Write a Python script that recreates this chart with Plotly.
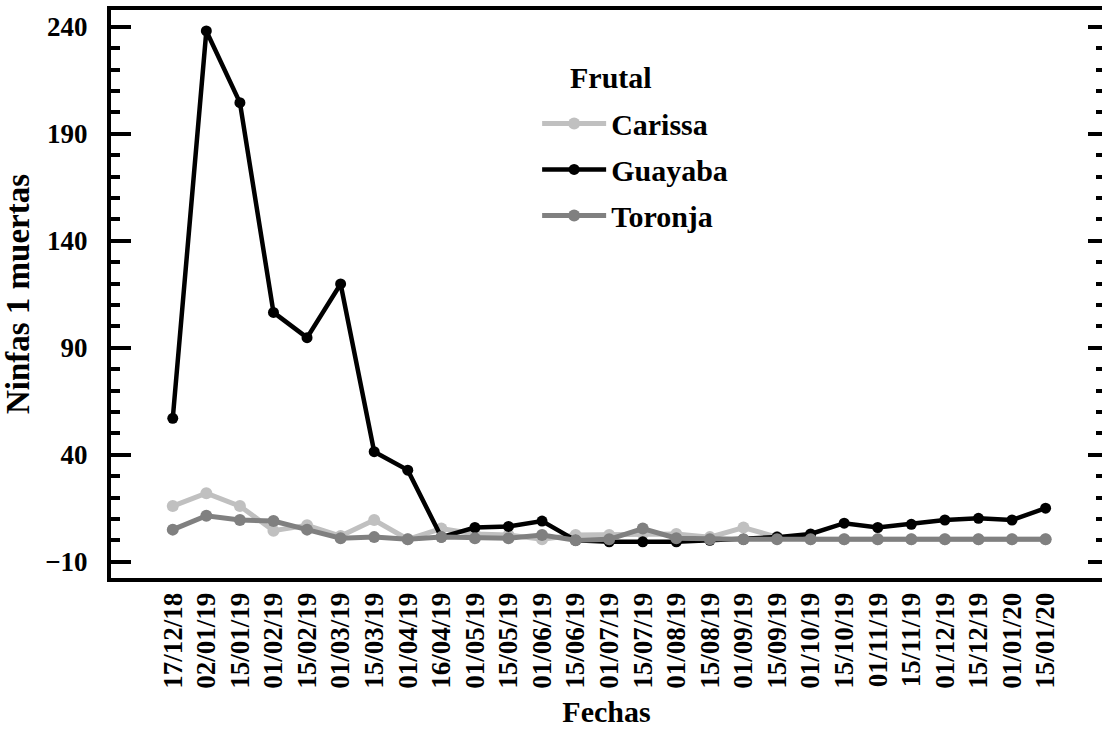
import plotly.graph_objects as go

fechas = ["17/12/18", "02/01/19", "15/01/19", "01/02/19", "15/02/19", "01/03/19",
          "15/03/19", "01/04/19", "16/04/19", "01/05/19", "15/05/19", "01/06/19",
          "15/06/19", "01/07/19", "15/07/19", "01/08/19", "15/08/19", "01/09/19",
          "15/09/19", "01/10/19", "15/10/19", "01/11/19", "15/11/19", "01/12/19",
          "15/12/19", "01/01/20", "15/01/20"]

carissa = [16, 22, 16, 4.5, 7, 2, 9.5, 0.5, 5.5, 3, 2.5, 0.5, 2.5, 2.5, 3, 3,
           1.5, 6, 1.5, 0.5, 0.5, 0.5, 0.5, 0.5, 0.5, 0.5, 0.5]
guayaba = [57, 238, 204.5, 106.5, 94.7, 119.8, 41.4, 32.8, 1.5, 6, 6.5, 9, 0,
           -0.7, -0.7, -0.7, 0, 0.5, 1.5, 3, 8, 6, 7.5, 9.5, 10.3, 9.5, 15]
toronja = [5, 11.5, 9.5, 9, 5, 1, 1.5, 0.5, 1.5, 1, 1, 2.5, 0, 0.5, 5.5, 1,
           0.5, 0.5, 0.5, 0.5, 0.5, 0.5, 0.5, 0.5, 0.5, 0.5, 0.5]

y_ticks = [-10, 40, 90, 140, 190, 240]

FONT = "Liberation Serif, Times New Roman, serif"

series = [
    ("Carissa", carissa, "#c0c0c0", 5, 12),
    ("Guayaba", guayaba, "#000000", 4.5, 11),
    ("Toronja", toronja, "#808080", 5, 12),
]

fig = go.Figure()
for name, vals, color, lw, ms in series:
    fig.add_trace(go.Scatter(
        x=fechas, y=vals, name=name, mode="lines+markers",
        legendgroup=name,
        line=dict(color=color, width=lw),
        marker=dict(color=color, size=ms, symbol="circle"),
    ))

fig.update_layout(
    width=1102, height=731,
    margin=dict(l=111, r=0, t=10, b=153),
    paper_bgcolor="white", plot_bgcolor="white",
    font=dict(family=FONT, color="black", weight="bold"),
    showlegend=True,
    legend=dict(
        x=0.43, y=0.846, xanchor="left", yanchor="top",
        bgcolor="rgba(0,0,0,0)",
        itemwidth=64,
        font=dict(family=FONT, size=30, color="black", weight="bold"),
        tracegroupgap=4,
    ),
    annotations=[dict(
        text="Frutal", xref="paper", yref="paper",
        x=(611 - 111) / 991, y=(578 - 77) / 568,
        xanchor="center", yanchor="middle", showarrow=False,
        font=dict(family=FONT, size=30, color="black", weight="bold"),
    )],
    xaxis=dict(
        type="category",
        range=[-1.84, 27.68],
        showline=True, linecolor="black", linewidth=4, mirror=True,
        showgrid=False, zeroline=False,
        ticks="", tickangle=-90,
        tickfont=dict(family=FONT, size=27, color="black", weight="bold"),
        title=dict(text="Fechas", standoff=14,
                   font=dict(family=FONT, size=30, color="black", weight="bold")),
    ),
    yaxis=dict(
        range=[-17.6, 247.8],
        tickmode="array", tickvals=y_ticks,
        showline=True, linecolor="black", linewidth=4,
        showgrid=False, zeroline=False,
        ticks="inside", ticklen=20, tickwidth=4, tickcolor="black",
        minor=dict(ticks="inside", ticklen=9, tickwidth=4, tickcolor="black",
                   dtick=10, tick0=-10, showgrid=False),
        ticklabelstandoff=14,
        tickfont=dict(family=FONT, size=27, color="black", weight="bold"),
        title=dict(text="Ninfas 1 muertas", standoff=14,
                   font=dict(family=FONT, size=33, color="black", weight="bold")),
    ),
    yaxis2=dict(
        overlaying="y", side="right", anchor="x", matches="y",
        range=[-17.6, 247.8],
        tickmode="array", tickvals=y_ticks,
        showline=False, showgrid=False, zeroline=False,
        showticklabels=False,
        ticks="inside", ticklen=14, tickwidth=4, tickcolor="black",
        minor=dict(ticks="inside", ticklen=6, tickwidth=4, tickcolor="black",
                   dtick=10, tick0=-10, showgrid=False),
    ),
)
fig.add_trace(go.Scatter(x=[], y=[], yaxis="y2", showlegend=False, hoverinfo="skip"))

fig.write_html(
    "out.html",
    config={"displayModeBar": False},
    post_script="document.body.style.margin='0';document.body.style.overflow='hidden';",
)
